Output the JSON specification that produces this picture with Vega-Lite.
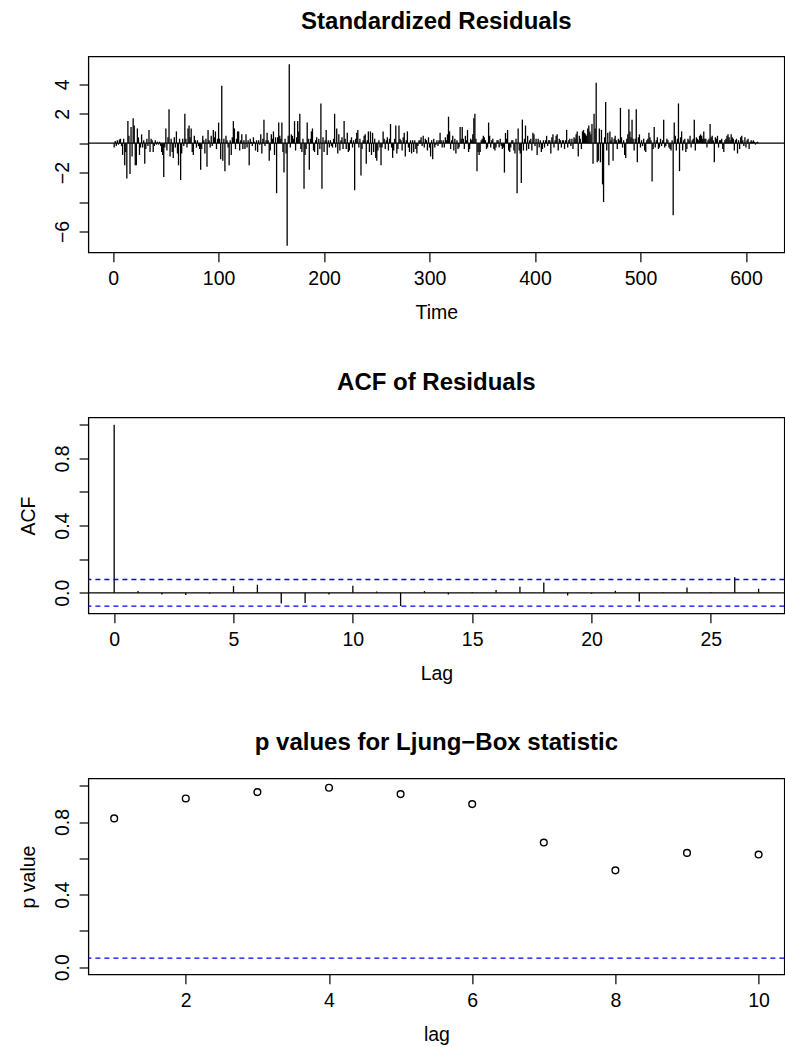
{
"$schema": "https://vega.github.io/schema/vega-lite/v6.json",
"background": "white",
"padding": {"left": 17.4, "top": 8.5, "right": 2, "bottom": 4},
"spacing": 46,
"config": {
 "font": "Liberation Sans",
 "view": {"stroke": "black", "strokeWidth": 1.3},
 "title": {"font": "Liberation Sans", "fontSize": 24, "fontWeight": "bold", "color": "black", "anchor": "middle", "frame": "group", "offset": 23},
 "axis": {"grid": false, "domain": false, "tickColor": "black", "tickSize": 9.3, "tickWidth": 1.2, "labelFont": "Liberation Sans", "labelFontSize": 19.5, "labelColor": "black", "titleFont": "Liberation Sans", "titleFontSize": 19.5, "titleFontWeight": "normal", "titleColor": "black", "labelFlush": false, "labelOverlap": false, "labelBound": false},
 "axisX": {"labelPadding": 8, "titleX": 348, "titleY": 66, "titleBaseline": "alphabetic", "titleAnchor": "middle", "titleAlign": "center"},
 "axisY": {"labelAngle": 270, "labelAlign": "center", "labelBaseline": "alphabetic", "labelPadding": 10.5, "titleAngle": 270, "titleX": -53.7, "titleY": 98, "titleBaseline": "alphabetic", "titleAlign": "center"}
},
"datasets": {
 "resid": [
{"t":1,"r":-0.3},{"t":2,"r":0.15},{"t":3,"r":-0.2},{"t":4,"r":0.2},{"t":5,"r":-0.1},{"t":6,"r":0.25},{"t":7,"r":0.3},{"t":8,"r":-0.2},{"t":9,"r":-0.8},{"t":10,"r":0.3},
{"t":11,"r":-1.5},{"t":12,"r":-0.6},{"t":13,"r":-2.4},{"t":14,"r":1.5},{"t":15,"r":0.5},{"t":16,"r":-2.1},{"t":17,"r":1.1},{"t":18,"r":-0.9},{"t":19,"r":1.7},{"t":20,"r":1.2},
{"t":21,"r":-1.5},{"t":22,"r":-1.5},{"t":23,"r":1.0},{"t":24,"r":0.4},{"t":25,"r":-0.8},{"t":26,"r":-0.3},{"t":27,"r":0.6},{"t":28,"r":-0.3},{"t":29,"r":0.2},{"t":30,"r":-1.4},
{"t":31,"r":-0.4},{"t":32,"r":0.3},{"t":33,"r":-0.2},{"t":34,"r":0.9},{"t":35,"r":-0.6},{"t":36,"r":0.3},{"t":37,"r":0.2},{"t":38,"r":-0.6},{"t":39,"r":-0.2},{"t":40,"r":0.2},
{"t":41,"r":-0.1},{"t":42,"r":0.1},{"t":43,"r":-0.1},{"t":44,"r":0.1},{"t":45,"r":-0.2},{"t":46,"r":-0.6},{"t":47,"r":-0.8},{"t":48,"r":-2.3},{"t":49,"r":-0.3},{"t":50,"r":1.0},
{"t":51,"r":-0.5},{"t":52,"r":0.4},{"t":53,"r":2.3},{"t":54,"r":-0.9},{"t":55,"r":0.3},{"t":56,"r":-0.6},{"t":57,"r":-1.0},{"t":58,"r":0.4},{"t":59,"r":-0.3},{"t":60,"r":0.8},
{"t":61,"r":-0.7},{"t":62,"r":-1.5},{"t":63,"r":0.3},{"t":64,"r":-2.5},{"t":65,"r":-0.7},{"t":66,"r":0.3},{"t":67,"r":-0.2},{"t":68,"r":2.0},{"t":69,"r":0.3},{"t":70,"r":-0.3},
{"t":71,"r":1.0},{"t":72,"r":1.2},{"t":73,"r":0.4},{"t":74,"r":1.0},{"t":75,"r":-0.6},{"t":76,"r":-0.8},{"t":77,"r":0.5},{"t":78,"r":0.2},{"t":79,"r":-0.3},{"t":80,"r":0.2},
{"t":81,"r":-0.2},{"t":82,"r":-0.4},{"t":83,"r":-1.8},{"t":84,"r":-0.4},{"t":85,"r":0.5},{"t":86,"r":0.2},{"t":87,"r":-0.7},{"t":88,"r":0.3},{"t":89,"r":-1.6},{"t":90,"r":0.9},
{"t":91,"r":0.2},{"t":92,"r":-0.3},{"t":93,"r":0.5},{"t":94,"r":-0.2},{"t":95,"r":0.9},{"t":96,"r":0.4},{"t":97,"r":0.8},{"t":98,"r":-0.4},{"t":99,"r":0.3},{"t":100,"r":1.4},
{"t":101,"r":0.3},{"t":102,"r":-1.1},{"t":103,"r":3.9},{"t":104,"r":-1.2},{"t":105,"r":0.3},{"t":106,"r":-1.9},{"t":107,"r":0.5},{"t":108,"r":0.2},{"t":109,"r":-0.3},{"t":110,"r":-1.5},
{"t":111,"r":0.2},{"t":112,"r":-0.8},{"t":113,"r":0.4},{"t":114,"r":1.5},{"t":115,"r":1.0},{"t":116,"r":-0.4},{"t":117,"r":0.3},{"t":118,"r":0.8},{"t":119,"r":0.8},{"t":120,"r":-0.5},
{"t":121,"r":0.2},{"t":122,"r":0.6},{"t":123,"r":-0.4},{"t":124,"r":0.2},{"t":125,"r":-0.4},{"t":126,"r":0.6},{"t":127,"r":-0.3},{"t":128,"r":0.2},{"t":129,"r":-1.5},{"t":130,"r":0.3},
{"t":131,"r":0.1},{"t":132,"r":-0.2},{"t":133,"r":0.4},{"t":134,"r":0.1},{"t":135,"r":-0.5},{"t":136,"r":0.2},{"t":137,"r":-0.6},{"t":138,"r":0.2},{"t":139,"r":-0.1},{"t":140,"r":0.6},
{"t":141,"r":-0.7},{"t":142,"r":0.3},{"t":143,"r":1.6},{"t":144,"r":-0.2},{"t":145,"r":0.2},{"t":146,"r":0.7},{"t":147,"r":0.2},{"t":148,"r":-1.2},{"t":149,"r":-0.5},{"t":150,"r":0.6},
{"t":151,"r":0.3},{"t":152,"r":0.8},{"t":153,"r":-0.8},{"t":154,"r":0.4},{"t":155,"r":-3.4},{"t":156,"r":0.4},{"t":157,"r":1.4},{"t":158,"r":0.5},{"t":159,"r":0.3},{"t":160,"r":1.4},
{"t":161,"r":-0.6},{"t":162,"r":-2.0},{"t":163,"r":0.3},{"t":164,"r":-0.7},{"t":165,"r":-6.97},{"t":166,"r":0.5},{"t":167,"r":5.36},{"t":168,"r":-0.3},{"t":169,"r":0.6},{"t":170,"r":0.5},
{"t":171,"r":0.3},{"t":172,"r":1.5},{"t":173,"r":-0.5},{"t":174,"r":0.4},{"t":175,"r":1.5},{"t":176,"r":0.8},{"t":177,"r":2.0},{"t":178,"r":-0.4},{"t":179,"r":-0.6},{"t":180,"r":0.3},
{"t":181,"r":-3.1},{"t":182,"r":-0.8},{"t":183,"r":-0.4},{"t":184,"r":1.4},{"t":185,"r":0.3},{"t":186,"r":-1.8},{"t":187,"r":0.3},{"t":188,"r":0.8},{"t":189,"r":1.0},{"t":190,"r":-0.5},
{"t":191,"r":-0.6},{"t":192,"r":0.2},{"t":193,"r":0.4},{"t":194,"r":-0.8},{"t":195,"r":0.3},{"t":196,"r":-0.4},{"t":197,"r":2.7},{"t":198,"r":-3.1},{"t":199,"r":0.4},{"t":200,"r":-0.6},
{"t":201,"r":0.2},{"t":202,"r":0.9},{"t":203,"r":-0.8},{"t":204,"r":0.2},{"t":205,"r":-0.3},{"t":206,"r":0.2},{"t":207,"r":-0.2},{"t":208,"r":-0.3},{"t":209,"r":0.3},{"t":210,"r":2.0},
{"t":211,"r":-0.3},{"t":212,"r":1.0},{"t":213,"r":-0.7},{"t":214,"r":0.6},{"t":215,"r":-0.5},{"t":216,"r":0.2},{"t":217,"r":0.4},{"t":218,"r":-0.4},{"t":219,"r":1.5},{"t":220,"r":0.3},
{"t":221,"r":-0.4},{"t":222,"r":0.7},{"t":223,"r":-0.6},{"t":224,"r":-0.5},{"t":225,"r":0.2},{"t":226,"r":0.4},{"t":227,"r":-0.3},{"t":228,"r":0.2},{"t":229,"r":-3.2},{"t":230,"r":0.3},
{"t":231,"r":0.7},{"t":232,"r":0.9},{"t":233,"r":-0.3},{"t":234,"r":0.3},{"t":235,"r":-2.2},{"t":236,"r":-0.4},{"t":237,"r":0.2},{"t":238,"r":0.5},{"t":239,"r":0.6},{"t":240,"r":-1.4},
{"t":241,"r":0.2},{"t":242,"r":0.8},{"t":243,"r":-0.6},{"t":244,"r":0.8},{"t":245,"r":-0.8},{"t":246,"r":0.7},{"t":247,"r":-0.6},{"t":248,"r":0.3},{"t":249,"r":-1.0},{"t":250,"r":-1.2},
{"t":251,"r":-0.5},{"t":252,"r":0.2},{"t":253,"r":-0.3},{"t":254,"r":-1.5},{"t":255,"r":-0.3},{"t":256,"r":0.8},{"t":257,"r":0.3},{"t":258,"r":-0.4},{"t":259,"r":0.2},{"t":260,"r":0.4},
{"t":261,"r":-0.5},{"t":262,"r":0.3},{"t":263,"r":1.3},{"t":264,"r":-0.3},{"t":265,"r":-1.0},{"t":266,"r":-0.5},{"t":267,"r":0.3},{"t":268,"r":1.2},{"t":269,"r":-0.7},{"t":270,"r":-0.4},
{"t":271,"r":1.2},{"t":272,"r":0.3},{"t":273,"r":0.2},{"t":274,"r":-0.5},{"t":275,"r":0.4},{"t":276,"r":0.7},{"t":277,"r":-0.9},{"t":278,"r":0.2},{"t":279,"r":0.8},{"t":280,"r":-0.3},
{"t":281,"r":-0.6},{"t":282,"r":0.2},{"t":283,"r":-0.7},{"t":284,"r":0.2},{"t":285,"r":-0.6},{"t":286,"r":0.2},{"t":287,"r":-0.4},{"t":288,"r":-0.7},{"t":289,"r":-0.2},{"t":290,"r":0.2},
{"t":291,"r":0.2},{"t":292,"r":0.4},{"t":293,"r":-0.2},{"t":294,"r":0.5},{"t":295,"r":-0.3},{"t":296,"r":0.3},{"t":297,"r":0.2},{"t":298,"r":-0.5},{"t":299,"r":0.4},{"t":300,"r":-0.3},
{"t":301,"r":-0.9},{"t":302,"r":0.2},{"t":303,"r":-1.1},{"t":304,"r":0.3},{"t":305,"r":-0.3},{"t":306,"r":-0.1},{"t":307,"r":0.2},{"t":308,"r":-0.2},{"t":309,"r":0.2},{"t":310,"r":0.7},
{"t":311,"r":0.2},{"t":312,"r":-0.3},{"t":313,"r":0.2},{"t":314,"r":-0.3},{"t":315,"r":0.4},{"t":316,"r":0.2},{"t":317,"r":0.6},{"t":318,"r":1.8},{"t":319,"r":0.8},{"t":320,"r":-0.4},
{"t":321,"r":0.2},{"t":322,"r":0.5},{"t":323,"r":-0.5},{"t":324,"r":0.3},{"t":325,"r":-0.7},{"t":326,"r":0.2},{"t":327,"r":-0.4},{"t":328,"r":-0.3},{"t":329,"r":1.1},{"t":330,"r":0.3},
{"t":331,"r":1.1},{"t":332,"r":0.3},{"t":333,"r":-0.4},{"t":334,"r":0.5},{"t":335,"r":0.2},{"t":336,"r":0.9},{"t":337,"r":-0.6},{"t":338,"r":-0.4},{"t":339,"r":0.3},{"t":340,"r":0.2},
{"t":341,"r":0.6},{"t":342,"r":1.7},{"t":343,"r":2.0},{"t":344,"r":0.3},{"t":345,"r":-1.9},{"t":346,"r":-0.6},{"t":347,"r":-0.8},{"t":348,"r":-0.6},{"t":349,"r":0.2},{"t":350,"r":0.3},
{"t":351,"r":0.5},{"t":352,"r":0.4},{"t":353,"r":0.2},{"t":354,"r":-0.4},{"t":355,"r":-0.3},{"t":356,"r":1.4},{"t":357,"r":0.5},{"t":358,"r":-0.3},{"t":359,"r":0.2},{"t":360,"r":0.3},
{"t":361,"r":-0.4},{"t":362,"r":-0.5},{"t":363,"r":-0.3},{"t":364,"r":0.2},{"t":365,"r":0.2},{"t":366,"r":-0.3},{"t":367,"r":0.3},{"t":368,"r":-0.2},{"t":369,"r":-0.4},{"t":370,"r":-0.3},
{"t":371,"r":-2.0},{"t":372,"r":0.7},{"t":373,"r":0.3},{"t":374,"r":0.9},{"t":375,"r":-0.5},{"t":376,"r":-0.6},{"t":377,"r":-0.3},{"t":378,"r":0.2},{"t":379,"r":0.2},{"t":380,"r":-0.5},
{"t":381,"r":-0.7},{"t":382,"r":0.3},{"t":383,"r":-3.4},{"t":384,"r":1.0},{"t":385,"r":-0.5},{"t":386,"r":-0.7},{"t":387,"r":-2.7},{"t":388,"r":1.6},{"t":389,"r":-0.5},{"t":390,"r":0.3},
{"t":391,"r":1.2},{"t":392,"r":-0.5},{"t":393,"r":0.5},{"t":394,"r":-0.4},{"t":395,"r":0.2},{"t":396,"r":0.3},{"t":397,"r":-0.5},{"t":398,"r":0.7},{"t":399,"r":0.6},{"t":400,"r":-0.2},
{"t":401,"r":0.3},{"t":402,"r":-0.8},{"t":403,"r":0.3},{"t":404,"r":-0.3},{"t":405,"r":0.2},{"t":406,"r":-0.6},{"t":407,"r":-0.4},{"t":408,"r":0.2},{"t":409,"r":-0.3},{"t":410,"r":0.2},
{"t":411,"r":0.5},{"t":412,"r":-0.2},{"t":413,"r":0.2},{"t":414,"r":0.2},{"t":415,"r":-0.7},{"t":416,"r":0.4},{"t":417,"r":0.6},{"t":418,"r":-0.3},{"t":419,"r":0.2},{"t":420,"r":0.5},
{"t":421,"r":0.6},{"t":422,"r":-0.5},{"t":423,"r":0.3},{"t":424,"r":0.2},{"t":425,"r":-0.3},{"t":426,"r":0.2},{"t":427,"r":0.2},{"t":428,"r":-0.4},{"t":429,"r":0.2},{"t":430,"r":0.9},
{"t":431,"r":-0.3},{"t":432,"r":0.2},{"t":433,"r":0.3},{"t":434,"r":-0.2},{"t":435,"r":0.3},{"t":436,"r":-0.4},{"t":437,"r":0.4},{"t":438,"r":0.3},{"t":439,"r":0.6},{"t":440,"r":0.8},
{"t":441,"r":-0.9},{"t":442,"r":0.5},{"t":443,"r":0.3},{"t":444,"r":-0.4},{"t":445,"r":0.8},{"t":446,"r":0.9},{"t":447,"r":0.7},{"t":448,"r":0.6},{"t":449,"r":0.5},{"t":450,"r":1.0},
{"t":451,"r":1.2},{"t":452,"r":0.8},{"t":453,"r":0.6},{"t":454,"r":1.3},{"t":455,"r":-1.4},{"t":456,"r":2.0},{"t":457,"r":1.0},{"t":458,"r":4.1},{"t":459,"r":-1.3},{"t":460,"r":-1.2},
{"t":461,"r":1.0},{"t":462,"r":-1.3},{"t":463,"r":0.9},{"t":464,"r":-2.8},{"t":465,"r":-4.0},{"t":466,"r":0.4},{"t":467,"r":2.8},{"t":468,"r":-0.5},{"t":469,"r":0.7},{"t":470,"r":-1.5},
{"t":471,"r":0.8},{"t":472,"r":0.2},{"t":473,"r":0.4},{"t":474,"r":-1.2},{"t":475,"r":0.3},{"t":476,"r":0.5},{"t":477,"r":0.2},{"t":478,"r":-0.4},{"t":479,"r":0.3},{"t":480,"r":0.2},
{"t":481,"r":2.4},{"t":482,"r":0.4},{"t":483,"r":-0.3},{"t":484,"r":0.2},{"t":485,"r":-0.8},{"t":486,"r":-1.0},{"t":487,"r":0.3},{"t":488,"r":0.6},{"t":489,"r":2.3},{"t":490,"r":0.8},
{"t":491,"r":0.4},{"t":492,"r":1.6},{"t":493,"r":0.3},{"t":494,"r":-0.5},{"t":495,"r":0.3},{"t":496,"r":2.3},{"t":497,"r":-1.3},{"t":498,"r":0.4},{"t":499,"r":0.6},{"t":500,"r":-0.3},
{"t":501,"r":0.2},{"t":502,"r":-0.2},{"t":503,"r":0.3},{"t":504,"r":-0.5},{"t":505,"r":-0.6},{"t":506,"r":0.2},{"t":507,"r":0.3},{"t":508,"r":0.7},{"t":509,"r":0.4},{"t":510,"r":0.2},
{"t":511,"r":-2.6},{"t":512,"r":-0.4},{"t":513,"r":1.1},{"t":514,"r":-0.3},{"t":515,"r":0.2},{"t":516,"r":0.4},{"t":517,"r":-0.4},{"t":518,"r":-0.3},{"t":519,"r":0.3},{"t":520,"r":-0.2},
{"t":521,"r":0.2},{"t":522,"r":1.6},{"t":523,"r":-0.3},{"t":524,"r":-0.2},{"t":525,"r":0.3},{"t":526,"r":0.2},{"t":527,"r":-0.3},{"t":528,"r":-0.4},{"t":529,"r":-0.5},{"t":530,"r":0.2},
{"t":531,"r":-4.9},{"t":532,"r":1.4},{"t":533,"r":0.5},{"t":534,"r":-0.5},{"t":535,"r":0.3},{"t":536,"r":2.7},{"t":537,"r":-1.9},{"t":538,"r":0.4},{"t":539,"r":0.8},{"t":540,"r":-0.5},
{"t":541,"r":0.2},{"t":542,"r":0.3},{"t":543,"r":-0.6},{"t":544,"r":-0.4},{"t":545,"r":0.3},{"t":546,"r":0.2},{"t":547,"r":0.5},{"t":548,"r":-0.3},{"t":549,"r":0.2},{"t":550,"r":0.3},
{"t":551,"r":1.6},{"t":552,"r":-0.5},{"t":553,"r":0.4},{"t":554,"r":0.3},{"t":555,"r":0.2},{"t":556,"r":0.5},{"t":557,"r":0.6},{"t":558,"r":0.5},{"t":559,"r":0.3},{"t":560,"r":0.8},
{"t":561,"r":0.3},{"t":562,"r":0.3},{"t":563,"r":-0.3},{"t":564,"r":0.2},{"t":565,"r":0.3},{"t":566,"r":1.3},{"t":567,"r":0.4},{"t":568,"r":0.5},{"t":569,"r":0.2},{"t":570,"r":-1.3},
{"t":571,"r":0.4},{"t":572,"r":0.3},{"t":573,"r":0.5},{"t":574,"r":-0.3},{"t":575,"r":0.2},{"t":576,"r":0.2},{"t":577,"r":0.3},{"t":578,"r":-0.4},{"t":579,"r":-0.6},{"t":580,"r":0.2},
{"t":581,"r":0.3},{"t":582,"r":0.5},{"t":583,"r":0.6},{"t":584,"r":0.4},{"t":585,"r":0.2},{"t":586,"r":0.6},{"t":587,"r":0.4},{"t":588,"r":0.3},{"t":589,"r":-0.5},{"t":590,"r":0.2},
{"t":591,"r":0.3},{"t":592,"r":-0.7},{"t":593,"r":0.2},{"t":594,"r":-0.4},{"t":595,"r":0.4},{"t":596,"r":0.5},{"t":597,"r":0.2},{"t":598,"r":-0.2},{"t":599,"r":0.4},{"t":600,"r":-0.3},
{"t":601,"r":0.2},{"t":602,"r":0.3},{"t":603,"r":-0.4},{"t":604,"r":0.1},{"t":605,"r":0.2},{"t":606,"r":0.1},{"t":607,"r":0.2},{"t":608,"r":0.1},{"t":609,"r":-0.1},{"t":610,"r":0.05},
{"t":611,"r":0.1},{"t":612,"r":0.02}
 ],
 "acf": [
{"lag":0,"acf":1.0},{"lag":1,"acf":0.01},{"lag":2,"acf":-0.01},{"lag":3,"acf":-0.013},{"lag":4,"acf":-0.005},{"lag":5,"acf":0.04},{"lag":6,"acf":0.048},{"lag":7,"acf":-0.063},{"lag":8,"acf":-0.06},{"lag":9,"acf":-0.01},
{"lag":10,"acf":0.042},{"lag":11,"acf":0.008},{"lag":12,"acf":-0.079},{"lag":13,"acf":0.01},{"lag":14,"acf":-0.01},{"lag":15,"acf":0.005},{"lag":16,"acf":0.016},{"lag":17,"acf":0.036},{"lag":18,"acf":0.061},{"lag":19,"acf":-0.016},
{"lag":20,"acf":-0.006},{"lag":21,"acf":0.012},{"lag":22,"acf":-0.052},{"lag":23,"acf":0.003},{"lag":24,"acf":0.032},{"lag":25,"acf":0.004},{"lag":26,"acf":0.093},{"lag":27,"acf":0.024}
 ],
 "clim": [{"c": 0.0792}, {"c": -0.0792}],
 "pv": [
{"lag":1,"p":0.82},{"lag":2,"p":0.93},{"lag":3,"p":0.965},{"lag":4,"p":0.989},{"lag":5,"p":0.954},{"lag":6,"p":0.899},{"lag":7,"p":0.687},{"lag":8,"p":0.534},{"lag":9,"p":0.63},{"lag":10,"p":0.621}
 ]
},
"vconcat": [
 {
  "title": "Standardized Residuals",
  "width": 696, "height": 196,
  "layer": [
   {"data": {"name": "resid"}, "mark": {"type": "rule", "color": "black", "strokeWidth": 1.3},
    "encoding": {
     "x": {"field": "t", "type": "quantitative", "scale": {"domain": [-23.44, 636.44], "nice": false, "zero": false}, "axis": {"values": [0,100,200,300,400,500,600], "format": "d", "title": "Time"}},
     "y": {"field": "r", "type": "quantitative", "scale": {"domain": [-7.43, 5.89], "nice": false, "zero": false}, "axis": {"values": [-6,-4,-2,0,2,4], "tickCount": 20, "format": "d", "title": " ", "labelExpr": "datum.value == 0 || datum.value == -4 ? '' : datum.label"}},
     "y2": {"datum": 0}
    }},
   {"data": {"values": [{}]}, "mark": {"type": "rule", "color": "black", "strokeWidth": 1.3}, "encoding": {"y": {"datum": 0}}}
  ]
 },
 {
  "title": "ACF of Residuals",
  "width": 696, "height": 196,
  "layer": [
   {"data": {"name": "acf"}, "mark": {"type": "rule", "color": "black", "strokeWidth": 1.3},
    "encoding": {
     "x": {"field": "lag", "type": "quantitative", "scale": {"domain": [-1.08, 28.08], "nice": false, "zero": false}, "axis": {"values": [0,5,10,15,20,25], "format": "d", "title": "Lag"}},
     "y": {"field": "acf", "type": "quantitative", "scale": {"domain": [-0.1232, 1.0432], "nice": false, "zero": false}, "axis": {"values": [0,0.2,0.4,0.6,0.8,1], "tickCount": 20, "format": ".1f", "title": "ACF", "labelExpr": "datum.label == '0.0' || datum.label == '0.4' || datum.label == '0.8' ? datum.label : ''"}},
     "y2": {"datum": 0}
    }},
   {"data": {"values": [{}]}, "mark": {"type": "rule", "color": "black", "strokeWidth": 1.3}, "encoding": {"y": {"datum": 0}}},
   {"data": {"name": "clim"}, "mark": {"type": "rule", "stroke": "#0000FF", "color": "#0000FF", "strokeWidth": 1.3, "strokeDash": [5, 4]}, "encoding": {"y": {"field": "c", "type": "quantitative"}}}
  ]
 },
 {
  "title": "p values for Ljung−Box statistic",
  "width": 696, "height": 196,
  "layer": [
   {"data": {"name": "pv"}, "mark": {"type": "point", "shape": "circle", "filled": false, "color": "black", "size": 45, "strokeWidth": 1.4, "opacity": 1},
    "encoding": {
     "x": {"field": "lag", "type": "quantitative", "scale": {"domain": [0.64, 10.36], "nice": false, "zero": false}, "axis": {"values": [2,4,6,8,10], "format": "d", "title": "lag"}},
     "y": {"field": "p", "type": "quantitative", "scale": {"domain": [-0.04, 1.04], "nice": false, "zero": false}, "axis": {"values": [0,0.2,0.4,0.6,0.8,1], "tickCount": 20, "format": ".1f", "title": "p value", "labelExpr": "datum.label == '0.0' || datum.label == '0.4' || datum.label == '0.8' ? datum.label : ''"}}
    }},
   {"data": {"values": [{}]}, "mark": {"type": "rule", "stroke": "#0000FF", "color": "#0000FF", "strokeWidth": 1.3, "strokeDash": [5, 4]}, "encoding": {"y": {"datum": 0.05}}}
  ]
 }
]
}
